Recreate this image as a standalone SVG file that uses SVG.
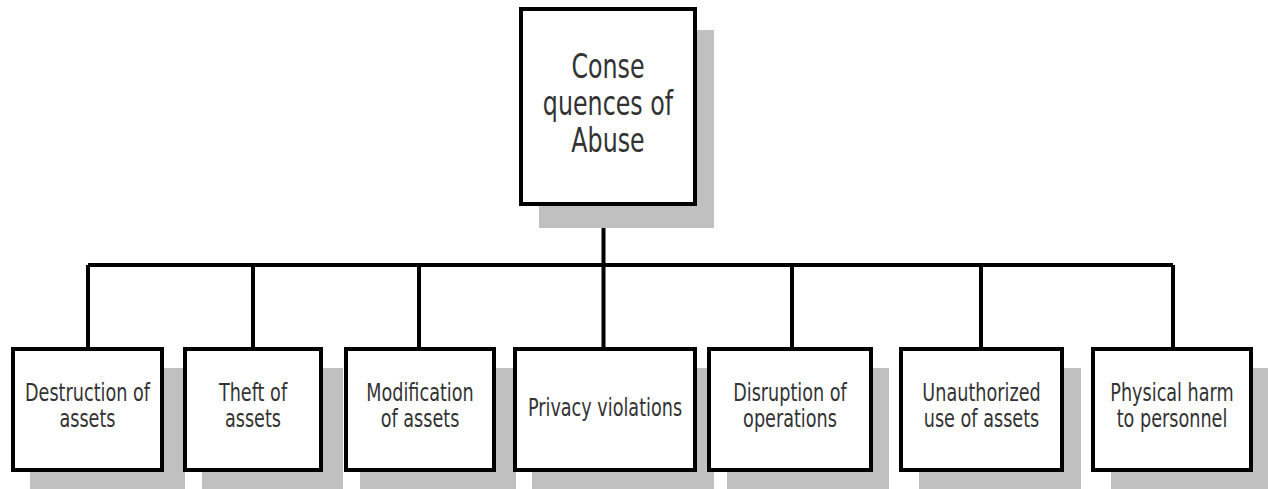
<svg xmlns="http://www.w3.org/2000/svg" width="1268" height="489" viewBox="0 0 1268 489">
<style>
.shadow{fill:#c0c0c0;stroke:none}
.box{fill:#ffffff;stroke:#000000;stroke-width:4}
.conn{stroke:#000000;stroke-width:4;fill:none}
.lbl{font-family:"DejaVu Sans","Liberation Sans",sans-serif;font-size:24.5px;fill:#333333;text-anchor:middle}
.top{font-size:33px}
</style>
<rect width="1268" height="489" fill="#ffffff"/>
<g id="connectors">
<path class="conn" d="M603.5,200 V347 M88,265 H1173 M88,265 V347 M253,265 V347 M419,265 V347 M792,265 V347 M981,265 V347 M1173,265 V347"/>
</g>
<g id="root">
<rect class="shadow" x="539" y="30" width="175" height="198"/>
<rect class="box" x="521" y="9" width="174" height="195"/>
<text class="lbl top" transform="translate(608,78) scale(0.72,1)"><tspan x="0" y="0">Conse</tspan><tspan x="0" y="37">quences of</tspan><tspan x="0" y="74">Abuse</tspan></text>
</g>
<g id="n1">
<rect class="shadow" x="30" y="368" width="155" height="125"/>
<rect class="box" x="13" y="349" width="149" height="121"/>
<text class="lbl" transform="translate(87.5,401) scale(0.72,1)"><tspan x="0" y="0">Destruction of</tspan><tspan x="0" y="26">assets</tspan></text>
</g>
<g id="n2">
<rect class="shadow" x="202" y="368" width="141" height="125"/>
<rect class="box" x="185" y="349" width="136" height="121"/>
<text class="lbl" transform="translate(253,401) scale(0.72,1)"><tspan x="0" y="0">Theft of</tspan><tspan x="0" y="26">assets</tspan></text>
</g>
<g id="n3">
<rect class="shadow" x="360" y="368" width="156" height="125"/>
<rect class="box" x="346" y="349" width="148" height="121"/>
<text class="lbl" transform="translate(420,401) scale(0.72,1)"><tspan x="0" y="0">Modification</tspan><tspan x="0" y="26">of assets</tspan></text>
</g>
<g id="n4">
<rect class="shadow" x="532" y="368" width="182" height="125"/>
<rect class="box" x="515" y="349" width="180" height="121"/>
<text class="lbl" transform="translate(605,416) scale(0.72,1)" x="0" y="0">Privacy violations</text>
</g>
<g id="n5">
<rect class="shadow" x="727" y="368" width="162" height="125"/>
<rect class="box" x="709" y="349" width="162" height="121"/>
<text class="lbl" transform="translate(790,401) scale(0.72,1)"><tspan x="0" y="0">Disruption of</tspan><tspan x="0" y="26">operations</tspan></text>
</g>
<g id="n6">
<rect class="shadow" x="919" y="368" width="162" height="125"/>
<rect class="box" x="901" y="349" width="161" height="121"/>
<text class="lbl" transform="translate(981.5,401) scale(0.72,1)"><tspan x="0" y="0">Unauthorized</tspan><tspan x="0" y="26">use of assets</tspan></text>
</g>
<g id="n7">
<rect class="shadow" x="1111" y="368" width="162" height="125"/>
<rect class="box" x="1093" y="349" width="158" height="121"/>
<text class="lbl" transform="translate(1172,401) scale(0.72,1)"><tspan x="0" y="0">Physical harm</tspan><tspan x="0" y="26">to personnel</tspan></text>
</g>
</svg>
